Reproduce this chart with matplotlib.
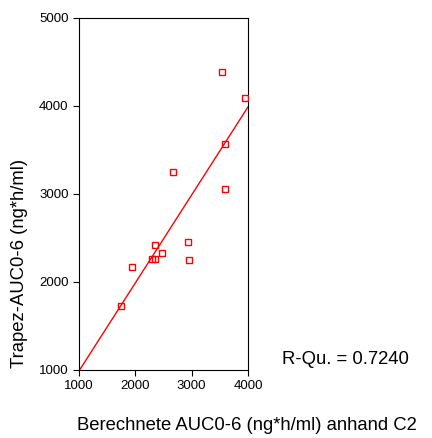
import numpy as np
import matplotlib
matplotlib.use("Agg")
import matplotlib.pyplot as plt

plt.rcParams["font.family"] = ["Liberation Sans", "DejaVu Sans"]

# Berechnete AUC0-6 (x) vs Trapez-AUC0-6 (y), ng*h/ml
auc_calc = [3539, 3941, 3586, 2675, 3586, 2343, 2935, 2473, 2290, 2349, 2953, 1946, 1740]
auc_trap = [4386, 4087, 3564, 3254, 3057, 2424, 2451, 2330, 2261, 2261, 2250, 2170, 1727]

x_ticks = [1000, 2000, 3000, 4000]
y_ticks = [1000, 2000, 3000, 4000, 5000]

slope, intercept = np.polyfit(auc_calc, auc_trap, 1)

fig = plt.figure(figsize=(4.32, 4.38), dpi=100)
ax = fig.add_axes([79 / 432, 1 - 370 / 438, 169 / 432, 352 / 438])

ax.plot(auc_calc, auc_trap, "s", mfc="none", mec="red", ms=5, mew=1, zorder=3)

xs = np.array([1000, 4000])
ax.plot(xs, slope * xs + intercept, "r-", lw=1)

ax.set_xlim(1000, 4000)
ax.set_ylim(1000, 5000)
ax.set_xticks(x_ticks)
ax.set_yticks(y_ticks)
ax.tick_params(direction="out", length=4, labelsize=9.5, top=False, right=False)

fig.text(20 / 432, 1 - 263 / 438, "Trapez-AUC0-6 (ng*h/ml)", rotation=90,
         ha="center", va="center", fontsize=13.3)
fig.text(247 / 432, 1 - 425 / 438, "Berechnete AUC0-6 (ng*h/ml) anhand C2",
         ha="center", va="center", fontsize=13.3)
fig.text(282 / 432, 1 - 360 / 438, "R-Qu. = 0.7240", ha="left", va="center",
         fontsize=13.3)

fig.savefig("out.png", dpi=100)
